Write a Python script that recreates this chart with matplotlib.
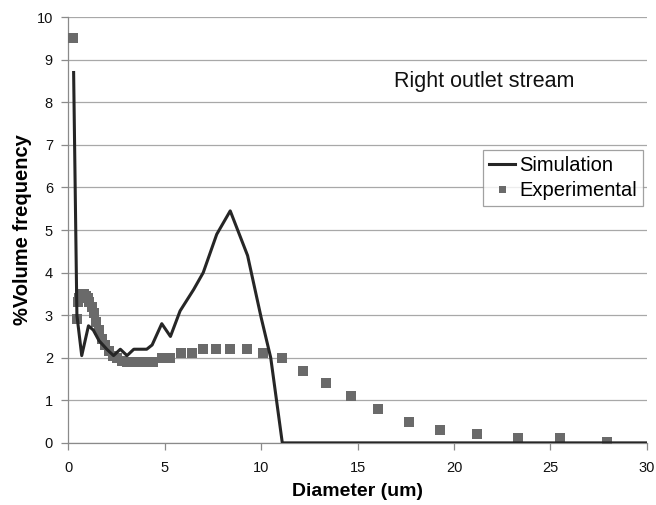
import matplotlib.pyplot as plt

# simulation curve (diameter um, % volume)
sim_x = [0.28, 0.45, 0.7, 1.05, 1.3, 1.6, 2.0, 2.35, 2.7, 3.05, 3.4, 4.07, 4.35,
         4.85, 5.3, 5.8, 6.5, 7.0, 7.7, 8.4, 9.3, 10.0, 10.5, 11.1, 30.0]
sim_y = [8.7, 3.0, 2.05, 2.75, 2.65, 2.4, 2.2, 2.05, 2.2, 2.05, 2.2, 2.2, 2.3,
         2.8, 2.5, 3.1, 3.6, 4.0, 4.9, 5.45, 4.4, 2.95, 2.0, 0.0, 0.0]

# experimental points
exp_x = [0.26, 0.48, 0.53, 0.58, 0.63, 0.69, 0.76, 0.83, 0.92, 1.0, 1.1, 1.21,
         1.33, 1.46, 1.6, 1.75, 1.92, 2.11, 2.31, 2.54, 2.78, 3.05, 3.35, 3.67,
         4.03, 4.42, 4.85, 5.28, 5.84, 6.4, 7.0, 7.67, 8.4, 9.25, 10.1, 11.1,
         12.15, 13.35, 14.66, 16.06, 17.65, 19.3, 21.2, 23.3, 25.5, 27.96]
exp_y = [9.5, 2.9, 3.3, 3.4, 3.5, 3.5, 3.5, 3.5, 3.45, 3.4, 3.3, 3.2,
         3.05, 2.85, 2.65, 2.45, 2.3, 2.15, 2.05, 2.0, 1.92, 1.9, 1.9, 1.9,
         1.9, 1.9, 2.0, 2.0, 2.1, 2.1, 2.2, 2.2, 2.2, 2.2, 2.1, 2.0,
         1.7, 1.4, 1.1, 0.8, 0.5, 0.3, 0.2, 0.12, 0.12, 0.03]

plt.rcParams['font.family'] = ['Liberation Sans', 'DejaVu Sans']

fig = plt.figure(figsize=(6.56, 5.05), dpi=100)
ax = fig.add_axes([0.104, 0.123, 0.882, 0.843])

ax.plot(exp_x, exp_y, 's', color='#6a6a6a', markersize=7.2, markeredgewidth=0,
        label='Experimental', zorder=3)
ax.plot(sim_x, sim_y, '-', color='#262626', linewidth=2.2, label='Simulation', zorder=4)

ax.set_xlim(0, 30)
ax.set_ylim(0, 10)
ax.set_xticks(range(0, 31, 5))
ax.set_yticks(range(0, 11))
ax.grid(axis='y', color='#a8a8a8', linewidth=0.9)
ax.set_axisbelow(True)

for side in ['top', 'right']:
    ax.spines[side].set_visible(False)
for side in ['left', 'bottom']:
    ax.spines[side].set_color('#8a8a8a')
    ax.spines[side].set_linewidth(0.9)
ax.tick_params(direction='out', length=5, width=0.9, color='#8a8a8a',
               labelsize=10.5, labelcolor='#111111')
ax.tick_params(axis='x', pad=8)
ax.tick_params(axis='y', pad=6)

ax.set_xlabel('Diameter (um)', fontsize=14, fontweight='bold', labelpad=6)
ax.set_ylabel('%Volume frequency', fontsize=14.5, fontweight='bold', labelpad=3)

ax.text(16.9, 8.5, 'Right outlet stream', fontsize=15.5, va='center', ha='left',
        color='#111111')

h, l = ax.get_legend_handles_labels()
leg = ax.legend([h[1], h[0]], [l[1], l[0]], loc='upper right',
                bbox_to_anchor=(0.993, 0.688), borderaxespad=0, fontsize=14.5,
                frameon=True, fancybox=False, edgecolor='#8a8a8a', handlelength=1.3,
                handletextpad=0.2, borderpad=0.3, labelspacing=0.3,
                markerscale=0.7)
leg.get_frame().set_linewidth(0.9)

fig.savefig('out.png', dpi=100)
